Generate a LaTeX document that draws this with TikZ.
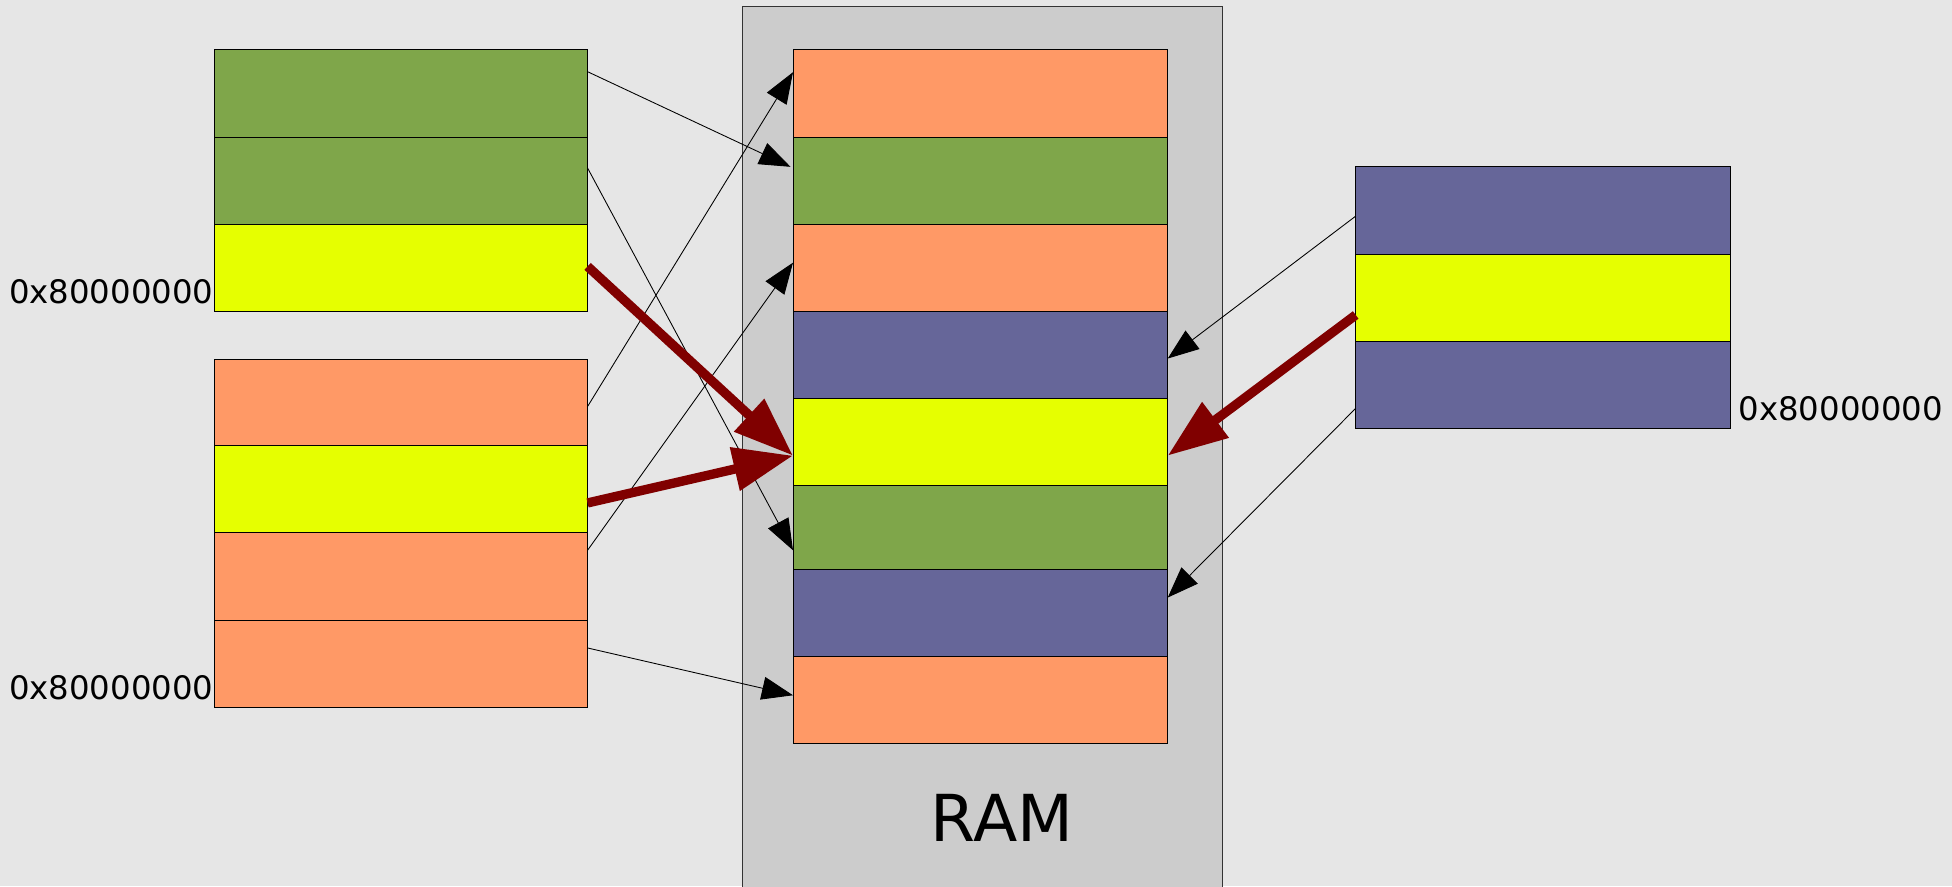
\documentclass[tikz,border=0pt]{standalone}
\usepackage{fontspec}
\setmainfont{DejaVu Sans}
\usetikzlibrary{arrows.meta}
\definecolor{bgc}{HTML}{E6E6E6}
\definecolor{ramgray}{HTML}{CCCCCC}
\definecolor{cgreen}{HTML}{7FA64A}
\definecolor{corange}{HTML}{FF9966}
\definecolor{cblue}{HTML}{666699}
\definecolor{cyellow}{HTML}{E6FF00}
\definecolor{cred}{HTML}{800000}
\begin{document}
\begin{tikzpicture}[x=1pt,y=-1pt,
  blk/.style={draw=black,line width=0.6pt,minimum width=301pt,minimum height=70pt,inner sep=0pt,outer sep=0pt,anchor=north west},
  gblk/.style={blk,fill=cgreen},
  oblk/.style={blk,fill=corange},
  bblk/.style={blk,fill=cblue},
  yblk/.style={blk,fill=cyellow},
  link/.style={draw=black,line width=0.7pt,-{Triangle[length=25pt,width=18.5pt]}},
  bigarrow/.style={draw=cred,line width=7.5pt,-{Triangle[length=48pt,width=34pt]}},
  addr/.style={font=\fontsize{26}{30}\selectfont,inner sep=0pt,outer sep=0pt}]
\useasboundingbox (0,0) rectangle (1568,712);
\fill[bgc] (0,0) rectangle (1568,712);
\clip (0,0) rectangle (1568,712);

% RAM container
\node[draw=black!80,line width=0.6pt,fill=ramgray,minimum width=385.5pt,minimum height=730pt,inner sep=0pt,outer sep=0pt,anchor=north west] (RAMbox) at (596,5.3) {};
\node[font=\fontsize{52}{60}\selectfont,anchor=base,inner sep=0pt] (ramlabel) at (805,676) {RAM};

% RAM blocks
\node[oblk] (R1) at (637,40) {};
\node[gblk] (R2) at (637,110) {};
\node[oblk] (R3) at (637,180) {};
\node[bblk] (R4) at (637,250) {};
\node[yblk] (R5) at (637,320) {};
\node[gblk,minimum height=67pt] (R6) at (637,390) {};
\node[bblk] (R7) at (637,457) {};
\node[oblk] (R8) at (637,527) {};

% left process 1
\node[gblk,minimum width=300pt] (L1a) at (172,40) {};
\node[gblk,minimum width=300pt] (L1b) at (172,110) {};
\node[yblk,minimum width=300pt] (L1c) at (172,180) {};

% left process 2
\node[oblk,minimum width=300pt,minimum height=69pt] (L2a) at (172,289) {};
\node[yblk,minimum width=300pt] (L2b) at (172,358) {};
\node[oblk,minimum width=300pt] (L2c) at (172,428) {};
\node[oblk,minimum width=300pt] (L2d) at (172,498) {};

% right process
\node[bblk] (P1) at (1089,134) {};
\node[yblk] (P2) at (1089,204) {};
\node[bblk] (P3) at (1089,274) {};

% address labels
\node[addr,anchor=base east] (addrA) at (171.5,244) {0x80000000};
\node[addr,anchor=base east] (addrB) at (171.5,561.5) {0x80000000};
\node[addr,anchor=base west] (addrC) at (1396.5,338) {0x80000000};

% thin mappings
\draw[link] ([yshift=17.4pt]L1a.east) -- ([xshift=-2pt,yshift=11pt]R2.west);
\draw[link] ([yshift=10pt]L1b.east) -- ([yshift=-18.5pt]R6.west);
\draw[link] ([yshift=-3pt]L2a.east) -- ([yshift=17pt]R1.west);
\draw[link] ([yshift=21pt]L2c.east) -- ([yshift=4pt]R3.west);
\draw[link] ([yshift=12.5pt]L2d.east) -- ([yshift=3.5pt]R8.west);
\draw[link] ([yshift=-4.6pt]P1.west) -- ([yshift=-3pt]R4.east);
\draw[link] ([yshift=-19pt]P3.west) -- ([yshift=12pt]R7.east);

% shared page (thick red)
\draw[bigarrow] ([yshift=1pt]L1c.east) -- ([yshift=-11pt]R5.west);
\draw[bigarrow] ([yshift=-11pt]L2b.east) -- ([yshift=-11pt]R5.west);
\draw[bigarrow] ([yshift=-14pt]P2.west) -- ([yshift=-11pt]R5.east);
\end{tikzpicture}
\end{document}
